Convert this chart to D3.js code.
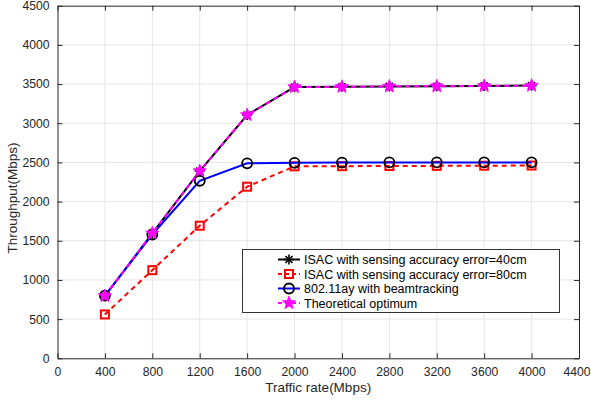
<!DOCTYPE html>
<html><head><meta charset="utf-8">
<script src="https://cdn.jsdelivr.net/npm/d3@7/dist/d3.min.js"></script>
<style>body{margin:0;background:#fff;} svg{display:block;font-family:"Liberation Sans",Arial,sans-serif;}</style>
</head><body>
<svg id="c" width="591" height="402"></svg>
<script>
const trafficRates = [400, 800, 1200, 1600, 2000, 2400, 2800, 3200, 3600, 4000];
const isac40 = [795, 1595, 2390, 3105, 3462, 3465, 3470, 3472, 3476, 3480];
const isac80 = [560, 1125, 1692, 2190, 2450, 2452, 2454, 2456, 2458, 2460];
const ay11 = [800, 1580, 2266, 2488, 2495, 2498, 2500, 2500, 2500, 2500];
const optimum = [795, 1595, 2390, 3105, 3462, 3465, 3470, 3472, 3476, 3480];
const xTicks = [0, 400, 800, 1200, 1600, 2000, 2400, 2800, 3200, 3600, 4000, 4400];
const yTicks = [0, 500, 1000, 1500, 2000, 2500, 3000, 3500, 4000, 4500];
const legendLabels = ["ISAC with sensing accuracy error=40cm", "ISAC with sensing accuracy error=80cm", "802.11ay with beamtracking", "Theoretical optimum"];

const svg = d3.select("#c");
const L = 57.5, R = 579, T = 5.7, B = 358.3;
const x = d3.scaleLinear().domain([0, 4400]).range([L, R]);
const y = d3.scaleLinear().domain([0, 4500]).range([B, T]);
const textCol = "#262626";

// grid
const g = svg.append("g");
g.selectAll(".gx").data(xTicks.slice(1, -1)).join("line")
  .attr("x1", d => x(d)).attr("x2", d => x(d)).attr("y1", T).attr("y2", B)
  .attr("stroke", "#e6e6e6").attr("stroke-width", 1);
g.selectAll(".gy").data(yTicks.slice(1, -1)).join("line")
  .attr("y1", d => y(d)).attr("y2", d => y(d)).attr("x1", L).attr("x2", R)
  .attr("stroke", "#e6e6e6").attr("stroke-width", 1);

// axes
const ax = svg.append("g").attr("transform", `translate(0,${B})`)
  .call(d3.axisBottom(x).tickValues(xTicks).tickSizeInner(-5).tickSizeOuter(0).tickPadding(9).tickFormat(d3.format("d")));
const axTop = svg.append("g").attr("transform", `translate(0,${T})`)
  .call(d3.axisTop(x).tickValues(xTicks).tickSizeInner(-5).tickSizeOuter(0).tickFormat(""));
const ayL = svg.append("g").attr("transform", `translate(${L},0)`)
  .call(d3.axisLeft(y).tickValues(yTicks).tickSizeInner(-5).tickSizeOuter(0).tickPadding(8).tickFormat(d3.format("d")));
const ayR = svg.append("g").attr("transform", `translate(${R},0)`)
  .call(d3.axisRight(y).tickValues(yTicks).tickSizeInner(-5).tickSizeOuter(0).tickFormat(""));
[ax, axTop, ayL, ayR].forEach(a => {
  a.selectAll("path").attr("stroke", textCol).attr("stroke-width", 1);
  a.selectAll("line").attr("stroke", textCol).attr("stroke-width", 1);
  a.selectAll("text").attr("fill", textCol).attr("font-size", 12.2).attr("font-family", "Liberation Sans, Arial, sans-serif");
});
ax.selectAll(".tick text").filter(d => d === 4400).attr("dx", -2.5);

// labels
svg.append("text").attr("x", (L + R) / 2).attr("y", 392).attr("text-anchor", "middle")
  .attr("font-size", 13.5).attr("fill", textCol).text("Traffic rate(Mbps)");
svg.append("text").attr("transform", `translate(17,${(T + B) / 2 + 16}) rotate(-90)`).attr("text-anchor", "middle")
  .attr("font-size", 13.5).attr("fill", textCol).text("Throughput(Mbps)");

const line = d3.line().x(d => x(d[0])).y(d => y(d[1]));
const pts = arr => trafficRates.map((t, i) => [t, arr[i]]);

function asterisk(sel, cx, cy, r, col) {
  const gg = sel.append("g").attr("transform", `translate(${cx},${cy})`);
  [0, 45, 90, 135].forEach(a => {
    const rad = a * Math.PI / 180;
    gg.append("line").attr("x1", -r * Math.cos(rad)).attr("y1", -r * Math.sin(rad))
      .attr("x2", r * Math.cos(rad)).attr("y2", r * Math.sin(rad)).attr("stroke", col).attr("stroke-width", 1.6);
  });
}
function starD(ro, ri) {
  const p = [];
  for (let k = 0; k < 10; k++) {
    const a = -Math.PI / 2 + k * Math.PI / 5;
    const r = k % 2 === 0 ? ro : ri;
    p.push([r * Math.cos(a), r * Math.sin(a)]);
  }
  return "M" + p.map(q => q[0].toFixed(2) + "," + q[1].toFixed(2)).join("L") + "Z";
}
const series = [
  {data: isac40, color: "#000", dash: null, marker: "ast"},
  {data: isac80, color: "#ff0000", dash: "5,4", marker: "sq"},
  {data: ay11, color: "#0000ff", dash: null, marker: "circ"},
  {data: optimum, color: "#ff00ff", dash: "5,4", marker: "star"}
];
function drawMarker(sel, m, cx, cy) {
  if (m === "ast") asterisk(sel, cx, cy, 5, "#000");
  else if (m === "sq") sel.append("rect").attr("x", cx - 4).attr("y", cy - 4).attr("width", 8).attr("height", 8)
    .attr("fill", "none").attr("stroke", "#ff0000").attr("stroke-width", 2);
  else if (m === "circ") sel.append("circle").attr("cx", cx).attr("cy", cy).attr("r", 5)
    .attr("fill", "none").attr("stroke", "#000").attr("stroke-width", 1.8);
  else if (m === "star") sel.append("path").attr("d", starD(7, 3)).attr("transform", `translate(${cx},${cy})`)
    .attr("fill", "#ff00ff").attr("stroke", "#ff00ff").attr("stroke-width", 0.8).attr("stroke-linejoin", "round");
}
series.forEach(s => {
  const p = pts(s.data);
  svg.append("path").attr("d", line(p)).attr("fill", "none").attr("stroke", s.color)
    .attr("stroke-width", 2).attr("stroke-dasharray", s.dash);
  const mg = svg.append("g");
  p.forEach(d => drawMarker(mg, s.marker, x(d[0]), y(d[1])));
});

// legend
const lg = svg.append("g");
lg.append("rect").attr("x", 242.5).attr("y", 249.5).attr("width", 317).attr("height", 63)
  .attr("fill", "#fff").attr("stroke", "#333").attr("stroke-width", 1);
legendLabels.forEach((lab, i) => {
  const s = series[i];
  const cy = 259.5 + i * 14.5;
  lg.append("line").attr("x1", 278).attr("x2", 300).attr("y1", cy).attr("y2", cy)
    .attr("stroke", s.color).attr("stroke-width", 2).attr("stroke-dasharray", s.dash ? "4,3" : null);
  drawMarker(lg, s.marker, 289, cy);
  lg.append("text").attr("x", 304).attr("y", cy + 4.5).attr("font-size", 12.5).attr("fill", "#000").text(lab);
});
</script>
</body></html>
